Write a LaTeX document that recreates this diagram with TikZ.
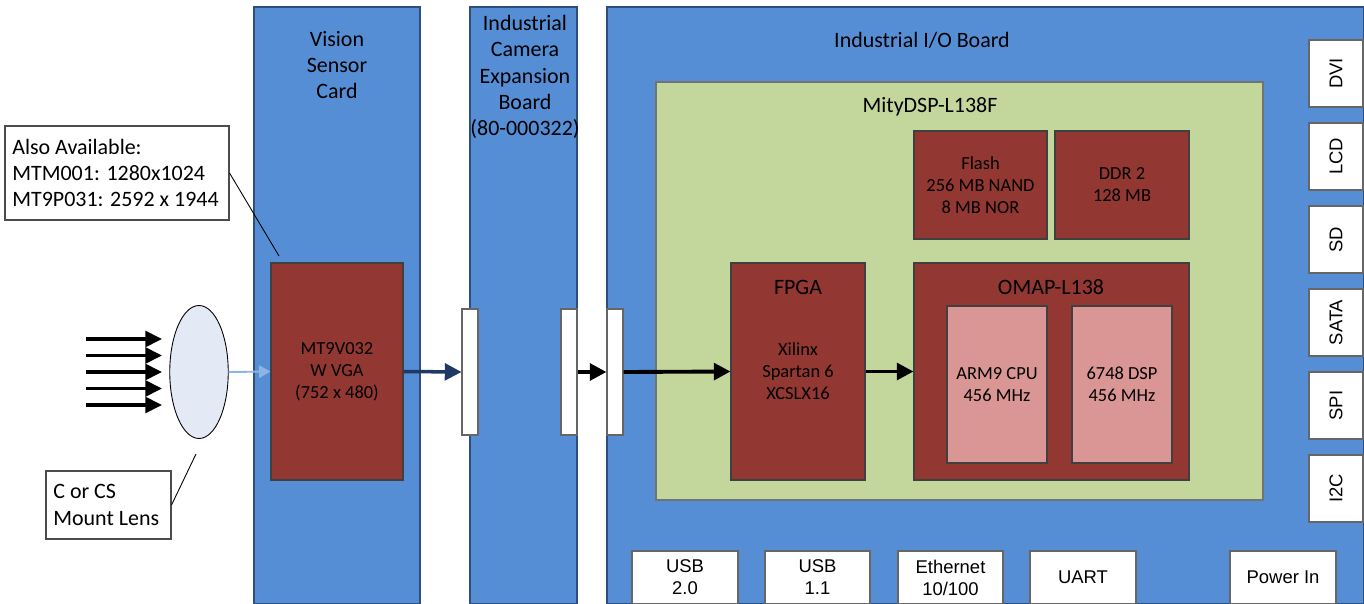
\documentclass[tikz,border=0pt]{standalone}
\usepackage{fontspec}
\setmainfont{Carlito}
\newfontfamily\arialf{Liberation Sans}
\usetikzlibrary{positioning,fit,shapes.geometric,arrows.meta}

\definecolor{azulplaca}{HTML}{558ED5}
\definecolor{bordeazul}{HTML}{2E4F7C}
\definecolor{verdemod}{HTML}{C3D69B}
\definecolor{rojochip}{HTML}{923732}
\definecolor{rosanucleo}{HTML}{D99694}
\definecolor{lentecol}{HTML}{E3EAF6}
\definecolor{azulclaro}{HTML}{8EB4E3}
\definecolor{azulosc}{HTML}{1F3864}

\newcommand{\fgrande}{\fontsize{12.5}{15}\selectfont}
\newcommand{\fchico}{\fontsize{10.5}{12.5}\selectfont}
\newcommand{\fpuerto}{\arialf\fontsize{10.5}{12.5}\selectfont}

\begin{document}
\begin{tikzpicture}[x=0.02cm, y=-0.02cm,
    placa/.style={draw=bordeazul, fill=azulplaca, line width=0.6pt, inner sep=0pt},
    modulo/.style={draw=black!55, fill=verdemod, line width=0.6pt, inner sep=0pt},
    chip/.style={draw=black!75, fill=rojochip, line width=0.6pt, inner sep=0pt,
      label={[font=\fchico, align=center]center:{#1}}},
    chip/.default={},
    nucleo/.style={draw=black!75, fill=rosanucleo, line width=0.6pt, inner sep=0pt,
      label={[font=\fchico, align=center]center:{#1}}},
    barra/.style={draw=black!60, fill=white, line width=0.6pt, inner sep=0pt},
    puerto/.style={draw=black!60, fill=white, line width=0.6pt, inner sep=0pt,
      label={[font=\fpuerto, align=center]center:{#1}}},
    puerto/.default={},
    nota/.style={draw=black!70, fill=white, line width=0.6pt, inner sep=0pt},
    notatexto/.style={anchor=west, align=left, font=\fgrande, inner sep=0pt},
    titulo/.style={align=center, font=\fgrande, inner sep=0pt},
    lente/.style={ellipse, draw=black, fill=lentecol, line width=0.5pt, minimum width=1.17cm, minimum height=2.66cm, inner sep=0pt},
    rayo/.style={line width=2pt, -{Triangle[length=9.5pt,width=9pt]}},
    flecha/.style={line width=2.2pt, -{Triangle[length=9.5pt,width=9.5pt]}},
    flechaosc/.style={azulosc, line width=2pt, -{Triangle[length=9.5pt,width=9.5pt]}},
    flechaclara/.style={azulclaro, line width=1.1pt, -{Triangle[length=6.5pt,width=7pt]}}]
    \useasboundingbox (0,0) rectangle (1364,604);

    % Placas
    \node[placa, fit={(254,7) (420,604)}] (vsc) {};
    \node[placa, fit={(470,7) (577,604)}] (ceb) {};
    \node[placa, fit={(607,7) (1364,604)}] (iob) {};
    \node[titulo] (tvsc) at (337,65) {Vision\\Sensor\\Card};
    \node[titulo] (tceb) at (525,77) {Industrial\\Camera\\Expansion\\Board\\(80-000322)};
    \node[titulo] (tiob) at (922,40) {Industrial I/O Board};

    % Modulo MityDSP
    \node[modulo, fit={(656,82) (1263,500)}] (mity) {};
    \node[titulo] (tmity) at (930,107) {MityDSP-L138F};
    \node[chip={Flash\\256 MB NAND\\8 MB NOR}, fit={(914,131) (1047,239)}] (flash) {};
    \node[chip={DDR 2\\128 MB}, fit={(1055,131) (1189,239)}] (ddr) {};
    \node[chip={Xilinx\\Spartan 6\\XCSLX16}, fit={(731,263) (865,480)}] (fpga) {};
    \node[titulo] (tfpga) at (798,287) {FPGA};
    \node[chip, fit={(914,263) (1189,480)}] (omap) {};
    \node[titulo] (tomap) at (1051,287) {OMAP-L138};
    \node[nucleo={ARM9 CPU\\456 MHz}, fit={(947,306) (1047,463)}] (arm) {};
    \node[nucleo={6748 DSP\\456 MHz}, fit={(1072,306) (1172,463)}] (dsp) {};

    % Sensor y lente
    \node[chip={MT9V032\\W VGA\\(752 x 480)}, fit={(271,263) (403,480)}] (sensor) {};
    \node[lente] (lente) at (199,372) {};

    % Conectores entre placas
    \node[barra, fit={(462,309) (478,435)}] (c1) {};
    \node[barra, fit={(561,309) (577,435)}] (c2) {};
    \node[barra, fit={(607,309) (623,435)}] (c3) {};

    % Puertos laterales
    \foreach \nom [count=\i from 0] in {DVI,LCD,SD,SATA,SPI,I2C} {
      \node[puerto, fit={(1309,40+83*\i) (1363,107+83*\i)},
        label={[rotate=90, font=\fpuerto]center:\nom}] (p\i) {};
    }

    % Puertos inferiores
    \node[puerto={USB\\2.0}, fit={(632,551) (738,604)}] (usb2) {};
    \node[puerto={USB\\1.1}, fit={(765,551) (870,604)}] (usb1) {};
    \node[puerto={Ethernet\\10/100}, fit={(898,551) (1003,604)}] (eth) {};
    \node[puerto={UART}, fit={(1030,551) (1136,604)}] (uart) {};
    \node[puerto={Power In}, fit={(1230,551) (1336,604)}] (pwr) {};

    % Notas
    \node[nota, fit={(5,126) (229,220)}] (also) {};
    \node[notatexto] (talso) at (12,173) {Also Available:\\MTM001: 1280x1024\\MT9P031: 2592 x 1944};
    \node[nota, fit={(46,471) (171,539)}] (nlente) {};
    \node[notatexto] (tlente) at (53,505) {C or CS\\Mount Lens};
    \coordinate (psensor) at (279,256);
    \coordinate (plente) at (196,454);
    \draw[line width=0.5pt] (also.east) -- (psensor);
    \draw[line width=0.5pt] (nlente.east) -- (plente);

    % Luz entrante
    \foreach \y [count=\i] in {339,355.5,372,388.5,405} {
      \coordinate (ra\i) at (86,\y);
      \coordinate (rb\i) at (162,\y);
      \draw[rayo] (ra\i) -- (rb\i);
    }

    % Flechas
    \draw[flechaclara] (lente.east) -- (sensor.west);
    \draw[flechaosc] (sensor.east) -- (c1.west);
    \draw[flecha] (c2.east) -- (c3.west);
    \draw[flecha] (c3.east) -- (fpga.west);
    \draw[flecha] (fpga.east) -- (omap.west);
  \end{tikzpicture}
\end{document}
